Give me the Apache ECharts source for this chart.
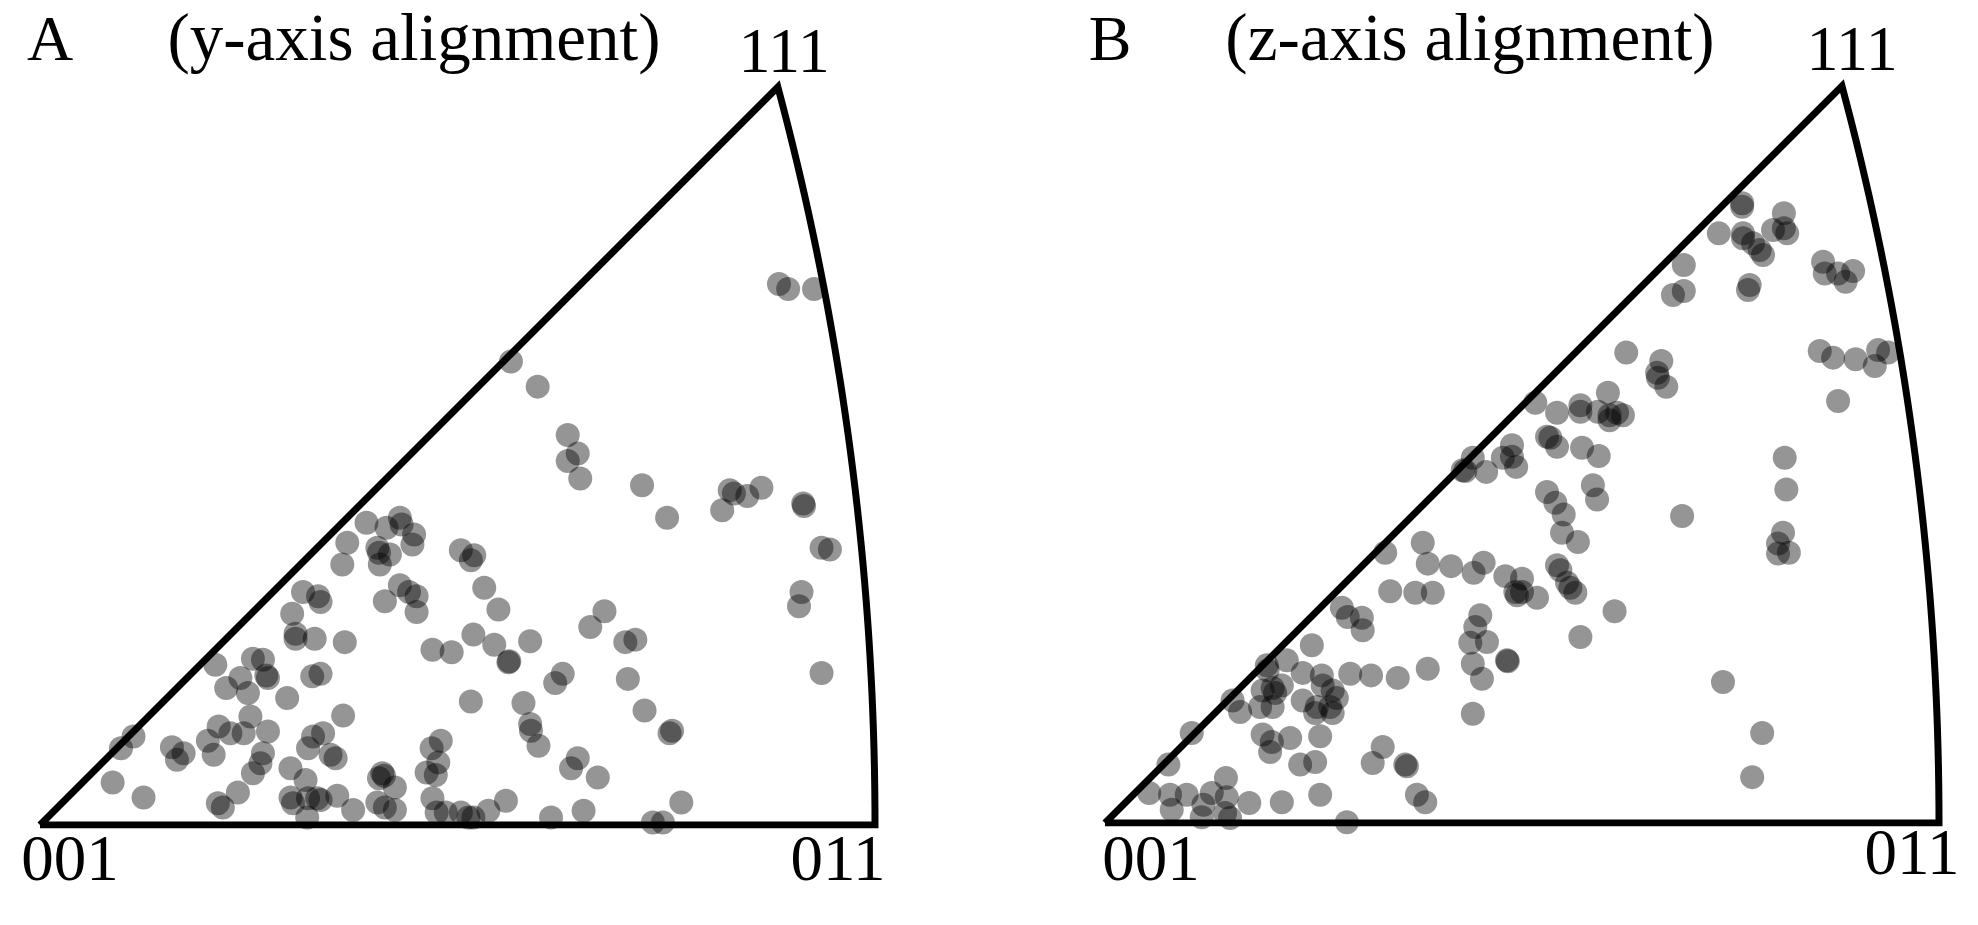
<!DOCTYPE html>
<html>
<head>
<meta charset="utf-8">
<title>IPF</title>
<style>
  html, body { margin: 0; padding: 0; background: #fff; }
  #chart { width: 1978px; height: 925px; }
</style>
</head>
<body>
<div id="chart"></div>
<script src="https://cdn.jsdelivr.net/npm/echarts@6/dist/echarts.min.js"></script>
<script>
// stereographic positions in the standard triangle, 001 at origin, 001-011 edge = 100
var yAlignPts = [
  [88.5,64.8],[89.6,64.2],[92.7,64.2],[56.4,55.5],[59.6,52.5],[63.2,46.7],[64.4,44.5],[63.2,43.6],[64.7,41.5],[72.1,40.7],
  [75.1,36.8],[82.6,40.1],[83.1,39.7],[84.7,39.4],[86.4,40.4],[81.7,37.7],[91.4,38.5],[91.5,38.2],[93.6,33.2],[94.6,33.0],
  [91.2,27.9],[90.9,26.2],[93.6,18.2],[67.6,25.6],[65.9,23.7],[70.1,21.9],[71.3,22.2],[62.6,18.1],[61.7,17.0],[70.4,17.5],
  [72.4,13.7],[75.7,11.3],[75.4,11.0],[64.4,8.0],[63.6,6.8],[66.8,5.7],[65.1,1.7],[76.8,2.7],[73.4,0.3],[74.6,0.3],
  [61.2,0.9],[39.1,36.2],[36.8,33.8],[36.2,31.2],[41.5,35.6],[43.1,36.8],[43.3,36.0],[44.8,34.8],[44.6,33.6],[40.4,33.2],
  [40.6,32.6],[41.9,32.4],[40.7,31.2],[50.4,32.9],[52.0,32.3],[51.6,31.7],[43.1,28.7],[44.2,27.9],[45.1,27.4],[45.1,25.5],
  [41.3,26.8],[53.2,28.4],[54.9,25.8],[51.9,22.8],[47.0,21.0],[49.3,20.7],[54.4,21.6],[56.1,19.5],[56.2,19.6],[58.7,22.0],
  [36.5,21.9],[51.6,14.8],[57.9,14.6],[58.7,12.1],[58.8,11.3],[59.7,9.5],[36.3,13.1],[33.9,11.0],[34.8,8.4],[35.4,8.0],
  [33.6,18.1],[48.0,10.1],[46.9,9.2],[47.7,7.5],[46.3,6.3],[47.4,6.0],[41.0,6.2],[41.2,5.9],[40.6,5.6],[42.5,4.5],
  [40.4,2.7],[41.3,2.1],[42.5,1.8],[35.6,3.5],[33.6,3.0],[37.5,1.8],[47.0,3.2],[47.5,1.5],[48.6,1.5],[50.4,1.5],
  [51.3,0.9],[51.9,0.9],[53.7,1.7],[55.8,2.9],[31.5,27.9],[33.3,27.4],[33.6,26.7],[30.2,25.3],[30.6,22.9],[30.6,22.3],
  [32.9,22.3],[21.0,19.2],[25.5,19.9],[26.7,19.8],[27.1,17.9],[27.3,17.6],[24.0,17.6],[22.3,16.4],[24.9,15.8],[29.6,15.2],
  [11.2,10.6],[9.7,9.2],[15.8,9.3],[16.4,7.8],[17.2,8.6],[20.1,10.1],[21.4,11.8],[22.8,11.0],[24.4,11.0],[25.2,13.0],
  [27.3,11.2],[20.8,8.4],[26.7,8.6],[26.4,7.4],[25.5,6.2],[8.7,5.1],[12.4,3.3],[23.7,3.9],[21.3,2.6],[21.9,2.1],
  [30.0,6.8],[31.8,5.4],[30.0,3.3],[30.3,2.6],[32.1,3.2],[33.2,3.2],[32.0,0.9],[32.7,10.6],[32.1,9.2],[32.6,17.8]
];

var zAlignPts = [
  [24.8,21.3],[21.8,19.5],[19.4,18.9],[19.5,18.3],[23.7,18.0],[26.0,17.7],[26.1,16.5],[27.3,15.9],[18.9,15.9],[20.4,15.6],
  [20.1,16.2],[21.2,16.5],[23.7,14.7],[18.6,13.9],[20.1,13.9],[25.4,13.9],[25.2,13.2],[27.0,13.9],[27.3,13.2],[15.3,14.7],
  [16.2,13.3],[10.4,10.8],[18.9,10.6],[20.0,9.7],[19.8,8.5],[22.2,10.2],[25.8,10.4],[7.6,7.0],[23.4,7.0],[25.2,7.3],
  [14.5,5.4],[5.3,3.6],[7.8,3.4],[8.0,1.6],[9.8,3.4],[12.8,3.6],[14.6,3.1],[11.8,2.2],[11.6,0.7],[14.4,1.2],
  [15.0,0.6],[17.3,2.4],[21.2,2.5],[25.8,3.4],[54.8,34.8],[56.7,33.7],[38.1,33.6],[33.6,32.4],[38.7,31.1],[41.5,30.8],
  [44.2,30.0],[45.4,31.2],[54.2,30.9],[54.6,30.3],[48.0,29.6],[50.0,29.3],[49.2,27.7],[49.4,27.3],[50.0,27.7],[51.8,27.0],
  [55.4,28.8],[55.8,28.2],[56.4,27.6],[34.2,27.8],[37.2,27.6],[39.3,27.6],[61.1,25.4],[57.0,22.3],[28.4,25.8],[29.1,24.7],
  [30.8,24.6],[30.9,23.1],[45.0,24.9],[44.4,23.5],[43.8,21.6],[45.8,21.7],[44.1,19.1],[45.2,17.3],[48.2,19.5],[48.3,19.4],
  [29.4,17.9],[31.9,17.7],[35.1,17.4],[38.7,18.5],[27.8,15.0],[44.1,13.1],[33.3,9.1],[32.1,7.2],[36.0,7.0],[36.2,6.8],
  [37.4,3.4],[38.4,2.5],[29.0,0.1],[62.5,56.4],[60.3,51.6],[51.6,50.4],[54.2,49.2],[57.0,50.1],[57.0,49.3],[59.1,49.3],
  [60.5,48.9],[61.4,49.2],[62.1,48.9],[60.5,48.3],[44.1,43.8],[42.9,42.3],[43.2,42.2],[45.7,42.1],[48.8,45.3],[47.7,43.8],
  [48.8,43.9],[49.3,42.7],[53.0,46.3],[53.4,46.2],[54.2,45.1],[57.2,45.0],[59.2,44.0],[58.5,40.5],[59.0,38.8],[53.0,39.7],
  [54.0,38.4],[55.0,37.0],[76.4,74.3],[76.4,73.9],[81.4,73.1],[73.6,70.7],[76.5,70.7],[76.5,70.1],[77.7,69.5],[78.5,68.7],
  [78.9,68.1],[80.1,71.1],[81.4,71.3],[81.8,70.7],[69.4,66.9],[69.4,63.8],[68.1,63.3],[77.3,64.5],[77.1,63.9],[86.1,67.3],
  [86.3,65.9],[87.9,65.9],[89.7,66.2],[88.8,64.9],[66.7,55.4],[66.2,54.0],[66.3,53.4],[67.3,52.3],[85.7,56.6],[87.3,55.8],
  [90.0,55.6],[92.7,56.7],[92.3,54.8],[93.9,56.4],[87.9,50.6],[81.5,43.8],[81.7,40.0],[69.2,36.8],[81.3,34.8],[80.7,33.5],
  [80.7,32.3],[82.0,32.4],[74.1,16.9],[78.8,10.8],[77.6,5.5]
];

var panelLetters = ['A', 'B'];
var panelTitles = ['(y-axis alignment)', '(z-axis alignment)'];
var cornerNames = ['001', '011', '111'];

// triangle outline: straight edges 001-011, 001-111 and the great-circle arc 011-111
function triangleFrame() {
  var s = 100 / Math.tan(Math.PI / 8);
  var pts = [[0, 0], [100, 0]];
  var end = Math.asin((Math.sqrt(3) - 1) / 2 / Math.SQRT2);
  var n = 40;
  for (var i = 1; i <= n; i++) {
    var a = end * i / n;
    pts.push([-s + Math.SQRT2 * s * Math.cos(a), Math.SQRT2 * s * Math.sin(a)]);
  }
  pts.push([0, 0]);
  return pts;
}

var chart = echarts.init(document.getElementById('chart'));
var serif = 'Liberation Serif';

var grids = [
  { left: 40, top: 73.5, width: 835, height: 751.5 },
  { left: 1105, top: 72.4, width: 834, height: 750.6 }
];

function axis(idx, max) {
  return { type: 'value', gridIndex: idx, min: 0, max: max, show: false };
}

var series = [];
[yAlignPts, zAlignPts].forEach(function (pts, i) {
  series.push({
    type: 'line',
    xAxisIndex: i, yAxisIndex: i,
    data: triangleFrame(),
    symbol: 'none',
    silent: true,
    lineStyle: { color: '#000', width: 7, join: 'miter' },
    z: 2
  });
  series.push({
    type: 'scatter',
    xAxisIndex: i, yAxisIndex: i,
    data: pts,
    symbolSize: 24,
    clip: false,
    itemStyle: { color: 'rgba(0,0,0,0.52)' },
    z: 3
  });
});

function label(text, x, y, size) {
  return {
    type: 'text', x: x, y: y,
    style: { text: text, font: size + 'px "' + serif + '"', fill: '#000', textAlign: 'center', textVerticalAlign: 'middle' }
  };
}

var option = {
  animation: false,
  backgroundColor: '#fff',
  grid: grids,
  xAxis: [axis(0, 100), axis(1, 100)],
  yAxis: [axis(0, 90), axis(1, 90)],
  series: series,
  graphic: [
    label(panelLetters[0], 50, 43, 64),
    label(panelTitles[0], 414, 42, 67),
    label(cornerNames[2], 784, 55, 64),
    label(cornerNames[0], 70, 863, 65),
    label(cornerNames[1], 838, 863, 65),
    label(panelLetters[1], 1110, 43, 64),
    label(panelTitles[1], 1470, 42, 67),
    label(cornerNames[2], 1852, 53, 64),
    label(cornerNames[0], 1151, 863, 65),
    label(cornerNames[1], 1912, 857, 65)
  ]
};
chart.setOption(option);
</script>
</body>
</html>
